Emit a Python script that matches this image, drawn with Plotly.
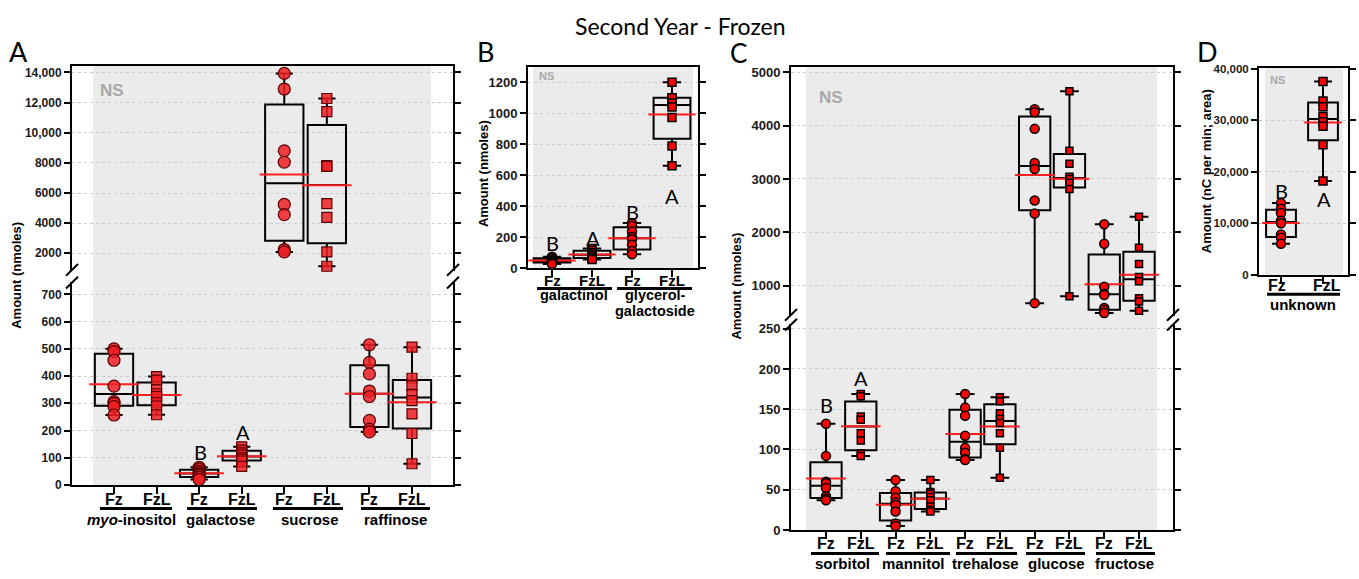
import numpy as np
import plotly.graph_objects as go

W, H = 1359, 579
SANS = "Liberation Sans, Arial, sans-serif"
SOFT = "Lato, Open Sans, sans-serif"

# ---------------- values (eight trees per treatment) ----------------
# Panel A, nmoles
myo_fz = [500, 490, 458, 363, 306, 300, 288, 257]
myo_fzl = [398, 385, 350, 335, 325, 302, 290, 258]
galactose_fz = [65, 58, 50, 45, 40, 35, 28, 20]
galactose_fzl = [140, 128, 118, 110, 100, 95, 88, 68]
sucrose_fz = [13935, 12900, 8800, 8050, 5240, 4570, 2250, 2090]
sucrose_fzl = [12270, 11405, 7815, 7770, 5290, 4380, 2090, 1140]
raffinose_fz = [515, 450, 408, 345, 325, 237, 205, 195]
raffinose_fzl = [506, 392, 365, 333, 310, 261, 189, 78]

# Panel B, nmoles
galactinol_fz = [72, 65, 55, 50, 45, 40, 33, 25]
galactinol_fzl = [125, 115, 100, 90, 80, 70, 62, 55]
glycgal_fz = [290, 272, 236, 200, 185, 150, 110, 88]
glycgal_fzl = [1200, 1100, 1100, 1066, 1040, 972, 788, 661]

# Panel C, nmoles
sorbitol_fz = [132, 92, 60, 58, 52, 42, 39, 37]
sorbitol_fzl = [169, 166, 141, 137, 120, 111, 95, 92]
mannitol_fz = [62, 48, 40, 34, 31, 23, 8, 5]
mannitol_fzl = [62, 47, 45, 41, 37, 29, 25, 23]
trehalose_fz = [169, 152, 142, 117, 102, 96, 88, 87]
trehalose_fzl = [165, 160, 145, 138, 133, 120, 102, 65]
glucose_fz = [4308, 4252, 3941, 3299, 3189, 2596, 2352, 670]
glucose_fzl = [4646, 3532, 3288, 3040, 3000, 2931, 2811, 800]
fructose_fz = [2150, 1783, 976, 848, 822, 578, 535, 486]
fructose_fzl = [2290, 1710, 1404, 1160, 1079, 760, 700, 528]

# Panel D, nC per min; area
unknown_fz = [13900, 12800, 12000, 10500, 10000, 7800, 7200, 6000]
unknown_fzl = [37500, 33700, 32600, 30700, 29700, 28800, 25200, 18200]

# category labels
treatments = ["Fz", "FzL"]
A_compounds = ["<i>myo</i>-inositol", "galactose", "sucrose", "raffinose"]
B_compounds = ["galactinol", "glycerol-", "galactoside"]
C_compounds = ["sorbitol", "mannitol", "trehalose", "glucose", "fructose"]
D_compounds = ["unknown"]

# tick labels
A_up_ticks = [2000, 4000, 6000, 8000, 10000, 12000, 14000]
A_up_text = ["2000", "4000", "6000", "8000", "10,000", "12,000", "14,000"]
A_lo_ticks = [0, 100, 200, 300, 400, 500, 600, 700]
B_ticks = [0, 200, 400, 600, 800, 1000, 1200]
C_up_ticks = [1000, 2000, 3000, 4000, 5000]
C_lo_ticks = [0, 50, 100, 150, 200, 250]
D_ticks = [0, 10000, 20000, 30000, 40000]
D_text = ["0", "10,000", "20,000", "30,000", "40,000"]

# significance letters (Fz, FzL) per compound where the difference is significant
sig_galactose = ["B", "A"]
sig_galactinol = ["B", "A"]
sig_glycgal = ["B", "A"]
sig_sorbitol = ["B", "A"]
sig_unknown = ["B", "A"]

# ---------------- helpers ----------------
fig = go.Figure()
layout = dict(width=W, height=H, margin=dict(l=0, r=0, t=0, b=0),
              paper_bgcolor="white", plot_bgcolor="rgba(0,0,0,0)",
              showlegend=False)
shapes, annotations = [], []
count = {"x": 0, "y": 0}


def new_id(kind):
    count[kind] += 1
    n = count[kind]
    return "" if n == 1 else str(n)


def fx(p):
    return p / W


def fy(p):
    return 1 - p / H


def segment(xdom, ydom, xrange, yrange, yvals, ytext, xvals=None,
            xmode="bottom", yfont=12):
    xs, ys = new_id("x"), new_id("y")
    xa = dict(domain=[fx(xdom[0]), fx(xdom[1])], range=xrange, anchor="y" + ys,
              showgrid=False, zeroline=False, fixedrange=True)
    if xmode in ("bottom", "box"):
        xa.update(showline=True, linecolor="black", linewidth=2,
                  ticks="outside", ticklen=7, tickwidth=2, tickcolor="black",
                  tickvals=xvals, showticklabels=False,
                  mirror=(xmode == "box"))
    else:
        xa.update(side="top", showline=True, linecolor="black", linewidth=2,
                  ticks="", showticklabels=False)
    layout["xaxis" + xs] = xa
    ydomain = [fy(ydom[1]), fy(ydom[0])]
    layout["yaxis" + ys] = dict(
        domain=ydomain, range=yrange, anchor="x" + xs, showline=True,
        linecolor="black", linewidth=2, ticks="outside", ticklen=6, tickwidth=2,
        tickcolor="black", mirror="ticks", tickvals=yvals, ticktext=ytext,
        tickfont=dict(family=SANS, size=yfont, color="#1a1a1a", weight="bold"),
        showgrid=True, gridcolor="#cdcdcd", griddash="dot", gridwidth=1,
        zeroline=False, fixedrange=True)
    yo = new_id("y")
    layout["yaxis" + yo] = dict(
        overlaying="y" + ys, anchor="x" + xs, side="left", range=yrange,
        tickvals=yvals, ticks="inside", ticklen=6, tickwidth=2,
        tickcolor="black", mirror="ticks", showline=False, showgrid=False,
        zeroline=False, showticklabels=False, fixedrange=True)
    return "x" + xs, "y" + ys


def draw_groups(xk, yk, pos_fz, pos_fzl, fz_sets, fzl_sets, width, ppu,
                whisker, style):
    positions = list(pos_fz) + list(pos_fzl)
    sets = list(fz_sets) + list(fzl_sets)
    q1 = [float(np.percentile(s, 25, method="weibull")) for s in sets]
    med = [float(np.percentile(s, 50, method="weibull")) for s in sets]
    q3 = [float(np.percentile(s, 75, method="weibull")) for s in sets]
    lo = [float(min(s)) for s in sets]
    hi = [float(max(s)) for s in sets]
    means = [float(np.mean(s)) for s in sets]
    fig.add_trace(go.Box(x=positions, q1=q1, median=med, q3=q3,
                         lowerfence=lo, upperfence=hi, width=width,
                         whiskerwidth=whisker, boxpoints=False,
                         line=dict(color="black", width=2),
                         fillcolor="rgba(0,0,0,0)", hoverinfo="skip",
                         xaxis=xk, yaxis=yk))
    fig.add_trace(go.Scatter(x=positions, y=means, mode="markers",
                             marker=dict(symbol="line-ew",
                                         size=width * ppu - 3, color="#ff1f1f",
                                         line=dict(color="#ff1f1f", width=2)),
                             hoverinfo="skip", cliponaxis=False,
                             xaxis=xk, yaxis=yk))
    for plist, dsets, sym, size in ((pos_fz, fz_sets, "circle", style["c"]),
                                    (pos_fzl, fzl_sets, "square", style["s"])):
        xs, ysv = [], []
        for p, d in zip(plist, dsets):
            xs += [p] * len(d)
            ysv += list(d)
        fig.add_trace(go.Scatter(x=xs, y=ysv, mode="markers",
                                 marker=dict(symbol=sym, size=size,
                                             color=style["fill"],
                                             line=dict(color=style["edge"],
                                                       width=style["lw"])),
                                 hoverinfo="skip", cliponaxis=False,
                                 xaxis=xk, yaxis=yk))


def gray(x0, x1, y0, y1):
    shapes.append(dict(type="rect", xref="paper", yref="paper", x0=fx(x0),
                       x1=fx(x1), y0=fy(y1), y1=fy(y0), fillcolor="#ebebeb",
                       line=dict(width=0), layer="below"))


def hline(x0, x1, y, w=3):
    shapes.append(dict(type="line", xref="paper", yref="paper", x0=fx(x0),
                       x1=fx(x1), y0=fy(y), y1=fy(y),
                       line=dict(color="black", width=w)))


def breakmark(x, y):
    shapes.append(dict(type="line", xref="paper", yref="paper", x0=fx(x - 6),
                       x1=fx(x + 6), y0=fy(y + 6), y1=fy(y - 6),
                       line=dict(color="black", width=2)))


def text(x, y, s, size, family=SANS, color="black", bold=False, angle=0):
    annotations.append(dict(xref="paper", yref="paper", x=fx(x), y=fy(y),
                            text=s, showarrow=False, textangle=angle,
                            xanchor="center", yanchor="middle",
                            font=dict(family=family, size=size, color=color,
                                      weight="bold" if bold else "normal")))


def xlabels(xk, positions, labels, y, size=16):
    # category labels under the x axis, placed at the axis positions
    for p, s in zip(positions, labels):
        annotations.append(dict(xref=xk, yref="paper", x=p, y=fy(y), text=s,
                                showarrow=False, xanchor="center",
                                yanchor="middle",
                                font=dict(family=SANS, size=size,
                                          color="black", weight="bold")))


A_style = dict(c=12, s=10, fill="rgba(238,32,36,0.85)", edge="#5a0000", lw=1.2)
small_style = dict(c=9, s=8, fill="#ff0000", edge="black", lw=1.5)
C_style = dict(c=9, s=7, fill="#ff0000", edge="black", lw=1.5)

# ---------------- panel A ----------------
A_ppu = 42.57
A_xr = [(72 - 114) / A_ppu, (453 - 114) / A_ppu]
A_pos = list(range(8))
xa_up, ya_up = segment((72, 453), (62, 272), A_xr, [832, 14454],
                       A_up_ticks, A_up_text, xmode="top")
xa_lo, ya_lo = segment((72, 453), (283, 491), A_xr, [0, 746.7],
                       A_lo_ticks, [str(v) for v in A_lo_ticks], A_pos)
draw_groups(xa_up, ya_up, [4], [5], [sucrose_fz], [sucrose_fzl], 0.9, A_ppu,
            0.45, A_style)
draw_groups(xa_lo, ya_lo, [0, 2, 6], [1, 3, 7],
            [myo_fz, galactose_fz, raffinose_fz],
            [myo_fzl, galactose_fzl, raffinose_fzl], 0.9, A_ppu, 0.45, A_style)
gray(93, 431, 62, 491)
for x in (72, 453):
    breakmark(x, 271)
    breakmark(x, 284)
xlabels(xa_lo, A_pos, treatments * 4, 506)
for (x0, x1), cx, name in zip([(100, 172), (187, 257), (273, 343), (361, 430)],
                              [131, 221, 310, 395], A_compounds):
    hline(x0, x1, 515)
    text(cx, 526, name, 15, bold=True)
text(17, 277, "Amount (nmoles)", 13, bold=True, angle=-90)
text(112, 87, "NS", 17, color="#a8a8a8", bold=True)
text(200, 457, sig_galactose[0], 20, family=SOFT)
text(243, 437, sig_galactose[1], 20, family=SOFT)
text(18, 48, "A", 27, family=SOFT)

# ---------------- panel B ----------------
B_ppu = 40.0
B_xr = [(528 - 552) / B_ppu, (698 - 552) / B_ppu]
xb, yb = segment((528, 698), (63, 269), B_xr, [0, 1301], B_ticks,
                 [str(v) for v in B_ticks], [0, 1, 2, 3], xmode="box",
                 yfont=13)
draw_groups(xb, yb, [0, 2], [1, 3], [galactinol_fz, glycgal_fz],
            [galactinol_fzl, glycgal_fzl], 0.92, B_ppu, 0.5, small_style)
gray(533, 693, 63, 269)
xlabels(xb, [0, 1, 2, 3], treatments * 2, 282, size=15)
hline(537, 612, 290)
hline(617, 692, 290)
text(574, 297, B_compounds[0], 14.5, bold=True)
text(655, 297, B_compounds[1], 14.5, bold=True)
text(655, 313, B_compounds[2], 14.5, bold=True)
text(483, 173, "Amount (nmoles)", 13, bold=True, angle=-90)
text(546, 73, "NS", 11, color="#a8a8a8", bold=True)
text(552, 243, sig_galactinol[0], 20, family=SOFT)
text(593, 238, sig_galactinol[1], 20, family=SOFT)
text(632, 212, sig_glycgal[0], 20, family=SOFT)
text(672, 195, sig_glycgal[1], 20, family=SOFT)
text(485, 48, "B", 27, family=SOFT)

# ---------------- panel C ----------------
C_ppu = 34.78
C_xr = [(791 - 826) / C_ppu, (1173 - 826) / C_ppu]
C_pos = list(range(10))
xc_up, yc_up = segment((791, 1173), (63, 318), C_xr, [431, 5110], C_up_ticks,
                       [str(v) for v in C_up_ticks], xmode="top", yfont=13)
xc_lo, yc_lo = segment((791, 1173), (326, 537), C_xr, [0, 256.3], C_lo_ticks,
                       [str(v) for v in C_lo_ticks], C_pos, yfont=13)
draw_groups(xc_up, yc_up, [6, 8], [7, 9], [glucose_fz, fructose_fz],
            [glucose_fzl, fructose_fzl], 0.9, C_ppu, 0.6, C_style)
draw_groups(xc_lo, yc_lo, [0, 2, 4], [1, 3, 5],
            [sorbitol_fz, mannitol_fz, trehalose_fz],
            [sorbitol_fzl, mannitol_fzl, trehalose_fzl], 0.9, C_ppu, 0.6,
            C_style)
gray(806, 1157, 63, 537)
for x in (791, 1173):
    breakmark(x, 317)
    breakmark(x, 327)
xlabels(xc_lo, C_pos, treatments * 5, 551)
for (x0, x1), cx, name in zip([(811, 879), (886, 950), (956, 1017),
                               (1026, 1085), (1096, 1155)],
                              [842, 914, 985, 1056, 1124], C_compounds):
    hline(x0, x1, 561)
    text(cx, 571, name, 15, bold=True)
text(737, 287, "Amount (nmoles)", 13, bold=True, angle=-90)
text(831, 95, "NS", 17, color="#a8a8a8", bold=True)
text(826, 409, sig_sorbitol[0], 20, family=SOFT)
text(861, 382, sig_sorbitol[1], 20, family=SOFT)
text(738, 49, "C", 26, family=SOFT)

# ---------------- panel D ----------------
D_ppu = 42.0
D_xr = [(1259 - 1281) / D_ppu, (1348 - 1281) / D_ppu]
xd, yd = segment((1259, 1348), (64, 276), D_xr, [0, 40190], D_ticks, D_text,
                 [0, 1], xmode="box", yfont=11.5)
draw_groups(xd, yd, [0], [1], [unknown_fz], [unknown_fzl], 0.71, D_ppu, 0.6,
            small_style)
gray(1265, 1343, 64, 276)
xlabels(xd, [-0.1, 1.1], treatments, 287)
hline(1267, 1340, 296)
text(1303, 306, D_compounds[0], 15, bold=True)
text(1206, 170, "Amount (nC per min; area)", 13, bold=True, angle=-90)
text(1277, 77, "NS", 11, color="#a8a8a8", bold=True)
text(1281, 190, sig_unknown[0], 20, family=SOFT)
text(1324, 198, sig_unknown[1], 20, family=SOFT)
text(1207, 48, "D", 27, family=SOFT)

# ---------------- title ----------------
text(680, 21, "Second Year - Frozen", 23, family=SOFT)

layout["shapes"] = shapes
layout["annotations"] = annotations
fig.update_layout(**layout)
fig.write_html("out.html")
